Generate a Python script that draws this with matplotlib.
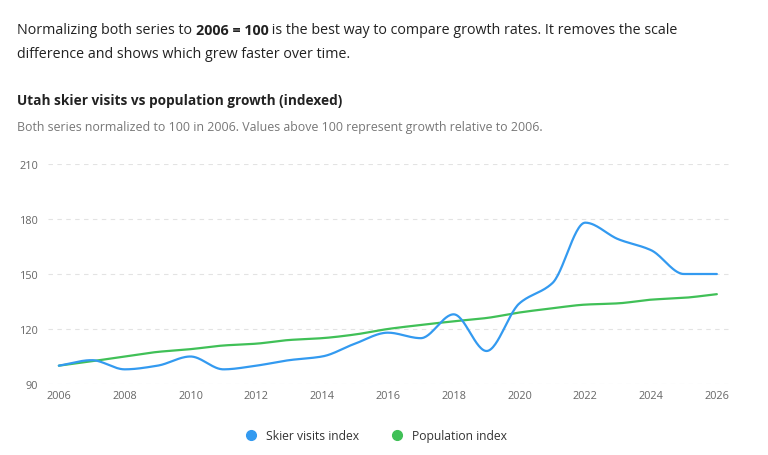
import numpy as np
import matplotlib as mpl
mpl.use('Agg')
import matplotlib.pyplot as plt
from matplotlib.lines import Line2D

years = list(range(2006, 2027))
skier_index = [100, 103, 98, 100, 105, 98, 100, 103, 105, 112, 118, 115, 128, 108, 134, 145, 178, 169, 163, 150, 150]
population_index = [100, 102.4, 105, 107.5, 109, 111, 112, 114, 115, 117, 120, 122.2, 124.2, 126, 129, 131.3, 133.3, 134, 136, 137, 139]
yticks = [90, 120, 150, 180, 210]
xticks = list(range(2006, 2027, 2))

cblue = '#339af0'
cgreen = '#40c057'
cgrid = '#e3e3e3'
ctick = '#666666'

plt.rcParams['font.family'] = ['Open Sans', 'DejaVu Sans']


def monotone(x, y, n=30):
    # Fritsch-Carlson monotone cubic, only for drawing the smooth line
    x = np.asarray(x, float)
    y = np.asarray(y, float)
    h = np.diff(x)
    d = np.diff(y) / h
    m = np.zeros_like(y)
    m[0], m[-1] = d[0], d[-1]
    for i in range(1, len(y) - 1):
        if d[i - 1] * d[i] <= 0:
            m[i] = 0
        else:
            w1 = 2 * h[i] + h[i - 1]
            w2 = h[i] + 2 * h[i - 1]
            m[i] = (w1 + w2) / (w1 / d[i - 1] + w2 / d[i])
    xs, ys = [], []
    for i in range(len(h)):
        t = np.linspace(0, 1, n, endpoint=False)
        h00 = 2 * t**3 - 3 * t**2 + 1
        h10 = t**3 - 2 * t**2 + t
        h01 = -2 * t**3 + 3 * t**2
        h11 = t**3 - t**2
        xs.append(x[i] + t * h[i])
        ys.append(h00 * y[i] + h10 * h[i] * m[i] + h01 * y[i + 1] + h11 * h[i] * m[i + 1])
    xs.append([x[-1]])
    ys.append([y[-1]])
    return np.concatenate(xs), np.concatenate(ys)


fig = plt.figure(figsize=(7.68, 4.56), dpi=100)
ax = fig.add_axes([48 / 768, 1 - 385 / 456, (730 - 48) / 768, 220 / 456])

sx, sy = monotone(years, skier_index)
px, py = monotone(years, population_index)
ax.plot(px, py, color=cgreen, linewidth=1.6, solid_capstyle='round')
ax.plot(sx, sy, color=cblue, linewidth=1.6, solid_capstyle='round')

ax.set_xlim(2005.67, 2026.4)
ax.set_ylim(90, 210)
ax.set_yticks(yticks)
ax.set_xticks(xticks)
ax.tick_params(length=0, labelsize=7.8, labelcolor=ctick, pad=7)
ax.tick_params(axis='x', pad=4)
ax.grid(axis='y', color=cgrid, linewidth=0.8, linestyle=(0, (4, 4)))
ax.set_axisbelow(True)
for s in ax.spines.values():
    s.set_visible(False)

# header with a bold part
fig.canvas.draw()
r = fig.canvas.get_renderer()
parts = [('Normalizing both series to ', 'normal'), ('2006 = 100', 'bold'),
         (' is the best way to compare growth rates. It removes the scale', 'normal')]
xpos = 17
for txt, wt in parts:
    t = fig.text(xpos / 768, 1 - 31 / 456, txt, fontsize=10.25, fontweight=wt,
                 color='#222222', va='center', ha='left')
    xpos += t.get_window_extent(r).width
fig.text(17 / 768, 1 - 54 / 456, 'difference and shows which grew faster over time.',
         fontsize=10.25, color='#222222', va='center', ha='left')

fig.text(17 / 768, 1 - 101 / 456, 'Utah skier visits vs population growth (indexed)',
         fontsize=9.8, fontweight='bold', color='#222222', va='center', ha='left')
fig.text(17 / 768, 1 - 128 / 456,
         'Both series normalized to 100 in 2006. Values above 100 represent growth relative to 2006.',
         fontsize=8.9, color='#777777', va='center', ha='left')

handles = [Line2D([], [], marker='o', linestyle='none', markersize=7, color=cblue, label='Skier visits index'),
           Line2D([], [], marker='o', linestyle='none', markersize=7, color=cgreen, label='Population index')]
leg = fig.legend(handles=handles, loc='center', bbox_to_anchor=(373 / 768, 1 - 437 / 456), ncol=2,
                 frameon=False, fontsize=8.7, handletextpad=0.2, columnspacing=2.2)
for t in leg.get_texts():
    t.set_color('#333333')

fig.savefig('out.png', dpi=100)
